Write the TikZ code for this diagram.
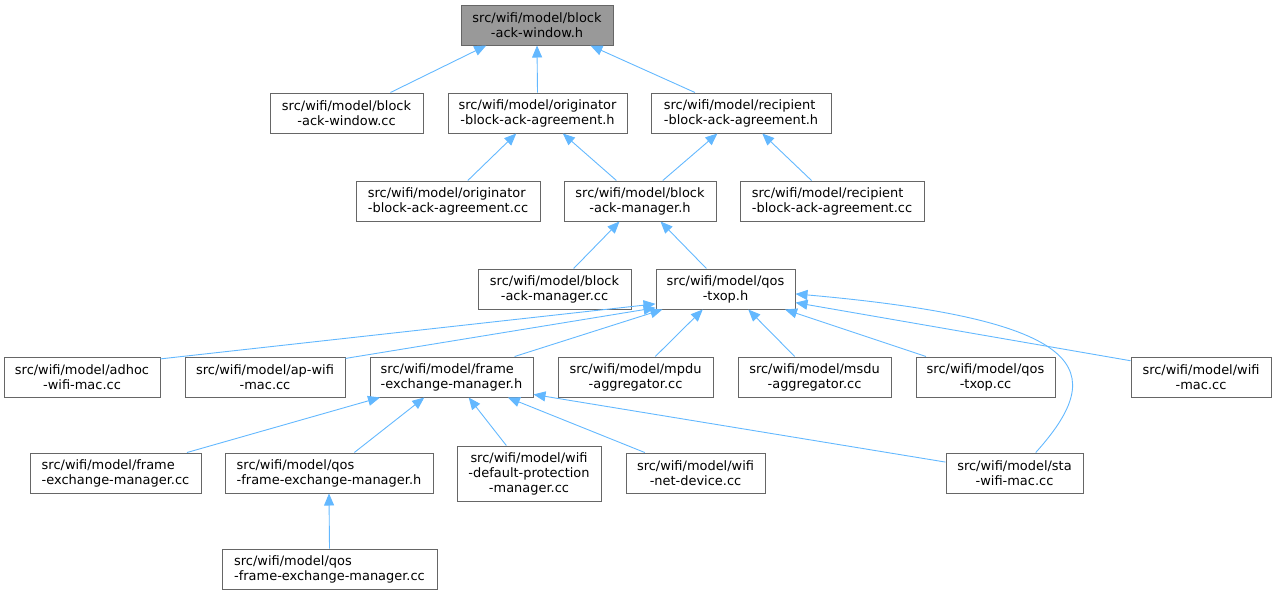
\documentclass[tikz,border=0pt]{standalone}
\usepackage{fontspec}
\setmainfont{DejaVu Sans}
\usetikzlibrary{arrows.meta}
\definecolor{edgeblue}{HTML}{63B8FF}
\definecolor{boxline}{HTML}{666666}
\definecolor{rootfill}{HTML}{999999}

\begin{document}
\begin{tikzpicture}[x=1pt,y=-1pt]
			\tikzset{filebox/.style={draw=boxline, fill=white, line width=1pt, inner sep=0pt, minimum height=40, minimum width=#1, align=center, font=\fontsize{12.95}{15}\selectfont},
				lhang/.style={align=left},
				incl/.style={draw=edgeblue, line width=0.9pt, -{Triangle[length=12pt,width=10pt]}}}
			\useasboundingbox (0,0) rectangle (1276,595);
			\node[filebox=152, fill=rootfill] (bawh) at (537,25) {src/wifi/model/block\\-ack-window.h};
			\node[filebox=153] (bawcc) at (346.5,113) {src/wifi/model/block\\-ack-window.cc};
			\node[filebox=179] (origh) at (537.5,113) {src/wifi/model/originator\\-block-ack-agreement.h};
			\node[filebox=180, lhang] (reciph) at (741,113) {src/wifi/model/recipient\\-block-ack-agreement.h};
			\node[filebox=184, lhang] (origcc) at (448,201) {src/wifi/model/originator\\-block-ack-agreement.cc};
			\node[filebox=152] (bamh) at (640,201) {src/wifi/model/block\\-ack-manager.h};
			\node[filebox=184, lhang] (recipcc) at (832,201) {src/wifi/model/recipient\\-block-ack-agreement.cc};
			\node[filebox=153] (bamcc) at (554.5,289) {src/wifi/model/block\\-ack-manager.cc};
			\node[filebox=139] (qosh) at (725.5,289) {src/wifi/model/qos\\-txop.h};
			\node[filebox=156] (adhoc) at (82,377) {src/wifi/model/adhoc\\-wifi-mac.cc};
			\node[filebox=160] (apwifi) at (265,377) {src/wifi/model/ap-wifi\\-mac.cc};
			\node[filebox=163, lhang] (femh) at (451.5,377) {src/wifi/model/frame\\-exchange-manager.h};
			\node[filebox=155] (mpdu) at (635.5,377) {src/wifi/model/mpdu\\-aggregator.cc};
			\node[filebox=153] (msdu) at (814.5,377) {src/wifi/model/msdu\\-aggregator.cc};
			\node[filebox=139] (qoscc) at (985.5,377) {src/wifi/model/qos\\-txop.cc};
			\node[filebox=140] (wifimac) at (1201,377) {src/wifi/model/wifi\\-mac.cc};
			\node[filebox=171, lhang] (femcc) at (115.5,473) {src/wifi/model/frame\\-exchange-manager.cc};
			\node[filebox=208, lhang] (qfemh) at (329,473) {src/wifi/model/qos\\-frame-exchange-manager.h};
			\node[filebox=144, minimum height=55] (protect) at (529,473.5) {src/wifi/model/wifi\\-default-protection\\-manager.cc};
			\node[filebox=139] (netdev) at (695.5,473) {src/wifi/model/wifi\\-net-device.cc};
			\node[filebox=137] (stamac) at (1014.5,473) {src/wifi/model/sta\\-wifi-mac.cc};
			\node[filebox=215, lhang] (qfemcc) at (329.5,569) {src/wifi/model/qos\\-frame-exchange-manager.cc};
			\foreach \a/\b in {bawcc.25/bawh.202, origh.north/bawh.south, reciph.156/bawh.339, origcc.46/origh.224, bamh.139/origh.321, bamh.42/reciph.221, recipcc.135/reciph.316, bamcc.47/bamh.225, qosh.133/bamh.315, adhoc.13/qosh.192, apwifi.13/qosh.195, femh.18/qosh.198, mpdu.46/qosh.222, msdu.134/qosh.318, qoscc.161/qosh.341, wifimac.167/qosh.349, femcc.16/femh.196, qfemh.39/femh.217, protect.129/femh.310, netdev.158/femh.340, stamac.171/femh.348, qfemcc.north/qfemh.south}{
				\draw[incl] (\a) -- (\b);
			}
			\draw[incl] (stamac.44) .. controls (1110,370) and (1090,320) .. (qosh.356);
		\end{tikzpicture}
\end{document}
